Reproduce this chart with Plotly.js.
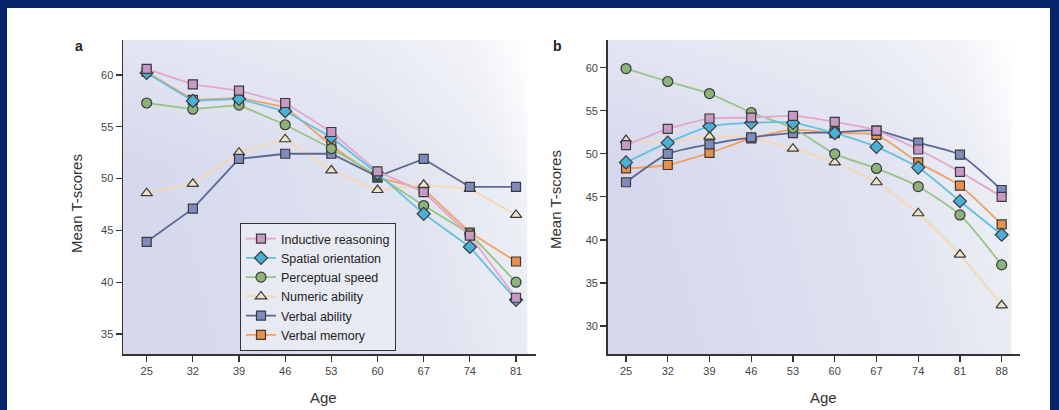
<!DOCTYPE html>
<html>
<head>
<meta charset="utf-8">
<script src="https://cdn.plot.ly/plotly-3.0.1.min.js"></script>
<style>
  html, body { margin: 0; padding: 0; background: #ffffff; overflow: hidden; }
  #chart { width: 1059px; height: 410px; }
</style>
</head>
<body>
<div id="chart"></div>
<script>
// ---- Data ----
const agesA = [25, 32, 39, 46, 53, 60, 67, 74, 81];
const agesB = [25, 32, 39, 46, 53, 60, 67, 74, 81, 88];

const seriesNames = ["Inductive reasoning", "Spatial orientation", "Perceptual speed",
                     "Numeric ability", "Verbal ability", "Verbal memory"];

// Panel a values
const inductiveA  = [60.6, 59.1, 58.5, 57.3, 54.5, 50.7, 48.7, 44.5, 38.5];
const spatialA    = [60.2, 57.5, 57.7, 56.5, 54.0, 50.5, 46.6, 43.4, 38.3];
const perceptualA = [57.3, 56.7, 57.1, 55.2, 52.9, 50.3, 47.4, 44.7, 40.0];
const numericA    = [48.6, 49.5, 52.5, 53.8, 50.8, 48.9, 49.4, 49.0, 46.5];
const verbalAbA   = [43.9, 47.1, 51.9, 52.4, 52.4, 50.2, 51.9, 49.2, 49.2];
const verbalMemA  = [60.3, 57.6, 57.8, 56.9, 53.2, 50.1, 49.0, 44.8, 42.0];

// Panel b values
const inductiveB  = [51.0, 52.9, 54.1, 54.2, 54.4, 53.7, 52.7, 50.5, 47.9, 45.0];
const spatialB    = [49.0, 51.3, 53.2, 53.6, 53.6, 52.4, 50.8, 48.4, 44.5, 40.6];
const perceptualB = [59.9, 58.4, 57.0, 54.8, 53.0, 50.0, 48.3, 46.2, 42.9, 37.1];
const numericB    = [51.6, 51.4, 52.0, 51.9, 50.6, 49.0, 46.7, 43.1, 38.3, 32.4];
const verbalAbB   = [46.7, 50.0, 51.1, 51.9, 52.4, 52.5, 52.7, 51.3, 49.9, 45.8];
const verbalMemB  = [48.3, 48.7, 50.1, 51.8, 52.8, 52.4, 52.2, 49.0, 46.3, 41.8];

// ---- Styles ----
const lineColors   = ["#e3a6cd", "#62c0e0", "#98c487", "#f6d8b0", "#5a6893", "#efa266"];
const markerColors = ["#c79ac6", "#4bb0d6", "#8cb47a", "#efe2c6", "#7e8cbd", "#e98f49"];
const symbols      = ["square", "diamond", "circle", "triangle-up", "square", "square"];
const markerSizes  = [9, 10, 10, 10, 9, 9];

const valsA = [inductiveA, spatialA, perceptualA, numericA, verbalAbA, verbalMemA];
const valsB = [inductiveB, spatialB, perceptualB, numericB, verbalAbB, verbalMemB];

// draw order (bottom first)
const order = [5, 3, 4, 2, 1, 0];

const FONT = '"Liberation Sans Narrow", "Arial Narrow", "Liberation Sans", Arial, sans-serif';

const traces = [];
order.forEach(i => {
  traces.push({
    type: "scatter", mode: "lines+markers",
    x: agesA, y: valsA[i], name: seriesNames[i],
    xaxis: "x", yaxis: "y", legendrank: i + 1,
    line: { color: lineColors[i], width: 1.8 },
    marker: { symbol: symbols[i], size: markerSizes[i], color: markerColors[i],
              line: { color: "#3a3a3a", width: 1.2 } },
    hoverinfo: "x+y+name"
  });
});
order.forEach(i => {
  traces.push({
    type: "scatter", mode: "lines+markers",
    x: agesB, y: valsB[i], name: seriesNames[i], showlegend: false,
    xaxis: "x2", yaxis: "y2",
    line: { color: lineColors[i], width: 1.8, shape: "spline", smoothing: 0.6 },
    marker: { symbol: symbols[i], size: markerSizes[i], color: markerColors[i],
              line: { color: "#3a3a3a", width: 1.2 } },
    hoverinfo: "x+y+name"
  });
});

const W = 1059, H = 410;
const px = v => v / W;
const py = v => (H - v) / H;

const gradSvg = '<svg xmlns="http://www.w3.org/2000/svg" width="400" height="300" preserveAspectRatio="none">' +
  '<defs><linearGradient id="g" x1="0" y1="0.2" x2="1" y2="0">' +
  '<stop offset="0" stop-color="#d6d9ed"/>' +
  '<stop offset="0.6" stop-color="#e0e3f0"/>' +
  '<stop offset="0.86" stop-color="#eceef5"/>' +
  '<stop offset="1" stop-color="#ffffff"/>' +
  '</linearGradient>' +
  '<linearGradient id="v" x1="0" y1="0" x2="0" y2="1">' +
  '<stop offset="0" stop-color="#ffffff" stop-opacity="0.3"/>' +
  '<stop offset="0.4" stop-color="#ffffff" stop-opacity="0"/>' +
  '</linearGradient></defs>' +
  '<rect width="400" height="300" fill="url(#g)"/>' +
  '<rect width="400" height="300" fill="url(#v)"/></svg>';
const gradUri = "data:image/svg+xml;base64," + btoa(gradSvg);

const axA = [123, 536], axB = [607.7, 1020];
const topY = 40, botY = 354;

const xCommon = {
  showgrid: false, zeroline: false, showline: true, linecolor: "#333333", linewidth: 1.5,
  ticks: "outside", ticklen: 6, tickwidth: 1.2, tickcolor: "#333333",
  tickfont: { family: FONT, size: 11, color: "#444444" }, fixedrange: true
};

const layout = {
  width: W, height: H,
  margin: { l: 0, r: 0, t: 0, b: 0 },
  paper_bgcolor: "#ffffff", plot_bgcolor: "rgba(0,0,0,0)",
  showlegend: true,
  xaxis: Object.assign({}, xCommon, {
    domain: [px(axA[0]), px(axA[1])], range: [21.41, 84.03],
    tickvals: agesA, ticktext: agesA.map(String), anchor: "y"
  }),
  yaxis: Object.assign({}, xCommon, {
    domain: [py(botY), py(topY)], range: [33.07, 63.38],
    tickvals: [35, 40, 45, 50, 55, 60], anchor: "x"
  }),
  xaxis2: Object.assign({}, xCommon, {
    domain: [px(axB[0]), px(axB[1])], range: [21.93, 91.07],
    tickvals: agesB, ticktext: agesB.map(String), anchor: "y2"
  }),
  yaxis2: Object.assign({}, xCommon, {
    domain: [py(botY), py(topY)], range: [26.75, 63.22],
    tickvals: [30, 35, 40, 45, 50, 55, 60], anchor: "x2"
  }),
  legend: {
    x: px(240), y: py(223), xanchor: "left", yanchor: "top",
    bgcolor: "rgba(240,241,247,0.6)", bordercolor: "#333333", borderwidth: 1,
    font: { family: FONT, size: 12.5, color: "#222222" },
    traceorder: "normal", itemwidth: 30
  },
  images: [
    { source: gradUri, xref: "paper", yref: "paper", x: px(axA[0]), y: py(topY),
      sizex: px(axA[1]) - px(axA[0]) - 0.008, sizey: py(topY) - py(botY),
      sizing: "stretch", xanchor: "left", yanchor: "top", layer: "below" },
    { source: gradUri, xref: "paper", yref: "paper", x: px(axB[0]), y: py(topY),
      sizex: px(axB[1]) - px(axB[0]) - 0.008, sizey: py(topY) - py(botY),
      sizing: "stretch", xanchor: "left", yanchor: "top", layer: "below" }
  ],
  shapes: [
    { type: "rect", xref: "paper", yref: "paper", x0: 0, x1: 1, y0: py(8), y1: 1,
      fillcolor: "#07246a", line: { width: 0 }, layer: "above" },
    { type: "rect", xref: "paper", yref: "paper", x0: 0, x1: px(7), y0: 0, y1: 1,
      fillcolor: "#07246a", line: { width: 0 }, layer: "above" },
    { type: "rect", xref: "paper", yref: "paper", x0: px(1050), x1: 1, y0: 0, y1: 1,
      fillcolor: "#07246a", line: { width: 0 }, layer: "above" },
    { type: "rect", xref: "paper", yref: "paper", x0: px(7), x1: px(1050), y0: 0, y1: py(406),
      fillcolor: "#ffffff", line: { width: 0 }, layer: "above" }
  ],
  annotations: [
    { text: "<b>a</b>", xref: "paper", yref: "paper", x: px(79), y: py(46),
      xanchor: "center", yanchor: "middle",
      showarrow: false, font: { family: "Liberation Sans, sans-serif", size: 14, color: "#222" } },
    { text: "<b>b</b>", xref: "paper", yref: "paper", x: px(557), y: py(46),
      xanchor: "center", yanchor: "middle",
      showarrow: false, font: { family: "Liberation Sans, sans-serif", size: 14, color: "#222" } },
    { text: "Mean T-scores", xref: "paper", yref: "paper", x: px(76), y: py(204),
      xanchor: "center", yanchor: "middle",
      textangle: -90, showarrow: false, font: { family: FONT, size: 15, color: "#333" } },
    { text: "Mean T-scores", xref: "paper", yref: "paper", x: px(555), y: py(200),
      xanchor: "center", yanchor: "middle",
      textangle: -90, showarrow: false, font: { family: FONT, size: 15, color: "#333" } },
    { text: "Age", xref: "paper", yref: "paper", x: px(323), y: py(397),
      xanchor: "center", yanchor: "middle",
      showarrow: false, font: { family: FONT, size: 15, color: "#333" } },
    { text: "Age", xref: "paper", yref: "paper", x: px(823), y: py(397),
      xanchor: "center", yanchor: "middle",
      showarrow: false, font: { family: FONT, size: 15, color: "#333" } }
  ]
};

Plotly.newPlot("chart", traces, layout, { displayModeBar: false, staticPlot: true });
</script>
</body>
</html>
